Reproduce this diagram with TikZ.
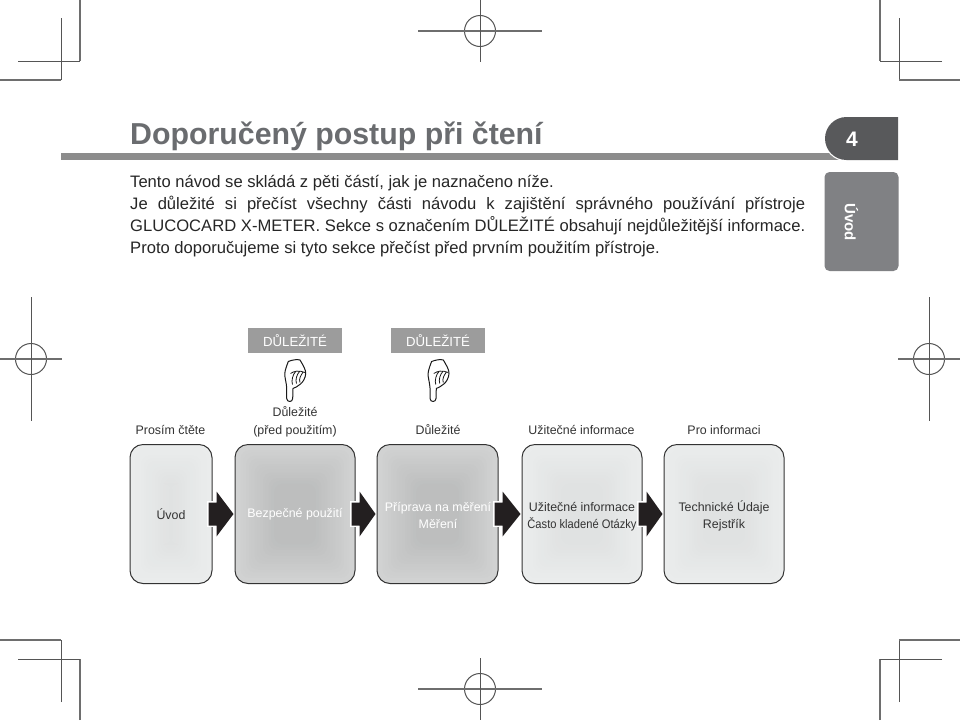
\documentclass[tikz,border=0pt]{standalone}
\usepackage{fontspec}
\setmainfont{Liberation Sans}
\newfontfamily\condfont[FakeStretch=0.9]{Liberation Sans}
\usetikzlibrary{calc}
\definecolor{txt}{HTML}{333333}
\definecolor{titlegray}{HTML}{6A6C6F}
\definecolor{tabdark}{HTML}{58595B}
\definecolor{tabmid}{HTML}{808184}
\definecolor{rule}{HTML}{8C8C8C}
\definecolor{tagfill}{HTML}{9C9C9C}
\definecolor{arrowfill}{HTML}{231F20}
\definecolor{markc}{HTML}{555555}
\definecolor{lightedge}{HTML}{EBEDED}
\definecolor{lightcore}{HTML}{E0E2E2}
\definecolor{darkedge}{HTML}{D2D3D3}
\definecolor{darkcore}{HTML}{BDBEBE}
\newcommand{\softfill}[2]{%
  \foreach \i in {0,...,14}{%
    \pgfmathsetmacro{\pc}{\i*100/14}
    \fill[#1!\pc!#2,rounded corners=9pt]
      ($(path picture bounding box.south west)+({\i*2.8},{-\i*2.8})$) rectangle
      ($(path picture bounding box.north east)+({-\i*2.8},{\i*2.8})$);
  }%
}
\tikzset{
  smalltext/.style={font=\fontsize{12.4}{17}\selectfont,text=txt,inner sep=0pt,align=center},
  bodyline/.style={font=\fontsize{16.6}{20}\selectfont,text=black!85,inner sep=0pt,anchor=base west},
  lightbox/.style={draw=black!80,line width=1pt,rounded corners=13pt,minimum height=139pt,inner sep=0pt,
    path picture={\softfill{lightcore}{lightedge}}},
  darkbox/.style={draw=black!80,line width=1pt,rounded corners=13pt,minimum height=139pt,inner sep=0pt,
    path picture={\softfill{darkcore}{darkedge}}},
  intext/.style={font=\fontsize{12.4}{17}\selectfont,text=txt,inner sep=0pt},
  inwhite/.style={font=\fontsize{12.4}{17}\selectfont,text=white,inner sep=0pt},
  tagbox/.style={fill=tagfill,minimum width=94pt,minimum height=25pt,inner sep=0pt,
    font=\fontsize{13.2}{15}\selectfont,text=white},
  thickmark/.style={draw=markc!85,line width=1.5pt},
  thinmark/.style={draw=markc,line width=1pt},
  hand/.pic={
    \draw[black!90,line width=1pt,fill=white,line join=round]
      (-6.7,-18.5) .. controls (-3,-20) and (2,-21) .. (5,-20)
      .. controls (8,-15) and (11,-10) .. (10.7,-6.5)
      .. controls (10.5,-2) and (8,2) .. (5.5,4)
      .. controls (3,6) and (0,8) .. (-2,8.5)
      -- (-2.3,18.5) .. controls (-2.5,22.5) and (-8,22.5) .. (-8.3,18.5)
      -- (-8.3,8) .. controls (-8.5,3) and (-10.5,-3) .. (-10.2,-6.5)
      .. controls (-10,-10) and (-8,-15) .. (-6.7,-18.5) -- cycle;
    \draw[black!90,line width=0.8pt]
      (-4.5,-6.5) .. controls (-1,-9) and (4,-10) .. (10,-7.5)
      (-2.5,4.5) .. controls (-4,1) and (-2,-6) .. (0.5,-8.2)
      (1.5,3.5) .. controls (0,0) and (2,-6) .. (4.5,-8.4)
      (5,2.5) .. controls (3.5,-1) and (6,-5) .. (8,-7.8);
  }
}
\newcommand{\regmark}[4]{%
  \draw[thinmark] (#1,#2) circle (15.5);
  \draw[thickmark] ({#1-#3},#2) -- ({#1+#3},#2);
  \draw[thinmark] (#1,{#2-#4}) -- (#1,{#2+#4});
}
\newcommand{\blockarrow}[2]{%
  \draw[white,line width=1.2pt]
    ($(#1.east)+(4,-12)$) -- ($(#1.east)+(-4.5,-12)$) -- ($(#1.east)+(-4.5,12)$) -- ($(#1.east)+(4,12)$);
  \fill[arrowfill]
    ($(#1.east)+(-4,-11.5)$) -- ($(#1.east)+(4,-11.5)$) -- ($(#1.east)+(4,-22.5)$)
    -- ($(#2.west)+(-1,0)$) -- ($(#1.east)+(4,22.5)$) -- ($(#1.east)+(4,11.5)$)
    -- ($(#1.east)+(-4,11.5)$) -- cycle;
}
\begin{document}
\begin{tikzpicture}[x=1pt,y=-1pt]
\useasboundingbox (0,0) rectangle (960,720);
\fill[white] (0,0) rectangle (960,720);
% crop marks
\foreach \mx/\my in {1/1,-1/1,1/-1,-1/-1}{
  \begin{scope}[shift={({480-480*\mx},{360-360*\my})},xscale=\mx,yscale=\my]
    \draw[thickmark] (80,0) -- (80,61);
    \draw[thinmark] (18,61) -- (80,61);
    \draw[thinmark] (61,18) -- (61,80);
    \draw[thickmark] (0,80) -- (61,80);
  \end{scope}
}
\regmark{480}{31}{62}{31}
\regmark{31}{359}{31}{62}
\regmark{929}{359}{31}{62}
\regmark{480}{689}{62}{31}
% header
\fill[rule] (61,153) rectangle (840,160);
\fill[white] (898,115.8) -- (846.5,115.8) arc[start angle=270,end angle=90,radius=22.7] -- (898,161.2) -- cycle;
\fill[tabdark] (898,117) -- (846.5,117) arc[start angle=270,end angle=90,radius=21.5] -- (898,160) -- cycle;
\node[font=\bfseries\fontsize{21}{24}\selectfont,text=white,inner sep=0pt] (pagenum) at (852,139) {4};
\node[fill=tabmid,rounded corners=5pt,minimum width=74pt,minimum height=99pt,inner sep=0pt] (sidetab) at (861.5,221.5) {};
\node[font=\bfseries\fontsize{15}{16}\selectfont,text=white,rotate=-90,inner sep=0pt] (sidetext) at (851.5,222) {Úvod};
\node[font=\bfseries\fontsize{30.3}{34}\selectfont,text=titlegray,inner sep=0pt,anchor=base west] (title) at (130,144) {Doporučený postup při čtení};
% body
\node[bodyline] (l1) at (130,187) {Tento návod se skládá z pěti částí, jak je naznačeno níže.};
\node[bodyline] (l2) at (130,209) {\makebox[675pt][s]{Je důležité si přečíst všechny části návodu k zajištění správného používání přístroje}};
\node[bodyline] (l3) at (130,231) {\makebox[675pt][s]{GLUCOCARD X-METER. Sekce s označením DŮLEŽITÉ obsahují nejdůležitější informace.}};
\node[bodyline] (l4) at (130,253) {Proto doporučujeme si tyto sekce přečíst před prvním použitím přístroje.};
% tags and hands
\node[tagbox] (tag1) at (295,340.5) {DŮLEŽITÉ};
\node[tagbox] (tag2) at (438,340.5) {DŮLEŽITÉ};
\pic (hand1) at (295,380) {hand};
\pic (hand2) at (438.3,380) {hand};
% labels
\node[smalltext] (lab1) at (170.5,430) {Prosím čtěte};
\node[smalltext,anchor=base] (lab2) at (295,434) {(před použitím)};
\node[smalltext,anchor=base] (lab2b) at (295,416) {Důležité};
\node[smalltext] (lab3) at (438,430) {Důležité};
\node[smalltext] (lab4) at (581.5,430) {Užitečné informace};
\node[smalltext] (lab5) at (724,430) {Pro informaci};
% boxes
\node[lightbox,minimum width=82pt] (b1) at (171,514) {};
\node[darkbox,minimum width=120pt] (b2) at (295,514) {};
\node[darkbox,minimum width=121pt] (b3) at (437.5,514) {};
\node[lightbox,minimum width=120pt] (b4) at (582,514) {};
\node[lightbox,minimum width=120pt] (b5) at (724,514) {};
% arrows
\blockarrow{b1}{b2}
\blockarrow{b2}{b3}
\blockarrow{b3}{b4}
\blockarrow{b4}{b5}
% box texts
\node[intext] (t1) at (171,514) {Úvod};
\node[inwhite] (t2) at (295,514) {Bezpečné použití};
\node[inwhite,anchor=base] (t3a) at (438,511) {Příprava na měření};
\node[inwhite,anchor=base] (t3b) at (438,528) {Měření};
\node[intext,anchor=base] (t4a) at (582,511) {Užitečné informace};
\node[intext,anchor=base] (t4b) at (582,528) {\condfont Často kladené Otázky};
\node[intext,anchor=base] (t5a) at (724,511) {Technické Údaje};
\node[intext,anchor=base] (t5b) at (724,528) {Rejstřík};
\end{tikzpicture}
\end{document}
